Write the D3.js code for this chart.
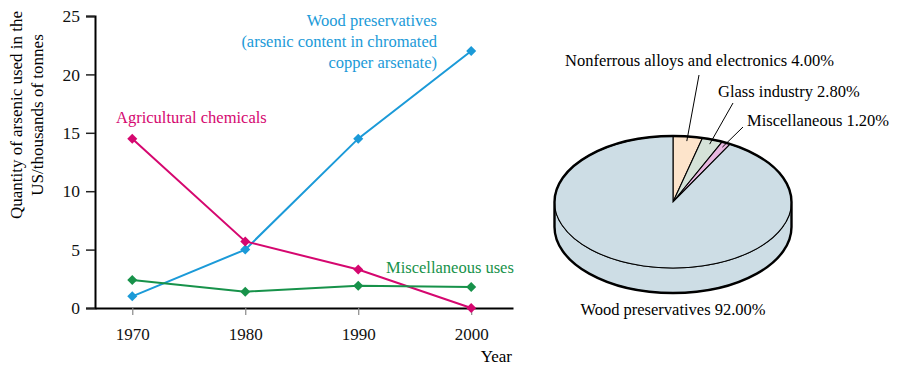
<!DOCTYPE html>
<html>
<head>
<meta charset="utf-8">
<script src="https://cdn.jsdelivr.net/npm/d3@7"></script>
<style>
  body { margin: 0; background: #fff; }
  text { font-family: "Liberation Serif", "DejaVu Serif", serif; }
</style>
</head>
<body>
<div id="chart"></div>
<script>
// line chart data (thousands of tonnes)
var years = [1970, 1980, 1990, 2000];
var woodValues = [1.0, 5.0, 14.5, 22.0];
var agriValues = [14.5, 5.7, 3.3, 0.0];
var miscValues = [2.4, 1.4, 1.9, 1.8];
var yTicks = [0, 5, 10, 15, 20, 25];

// pie data (percent)
var pieLabels = ["Nonferrous alloys and electronics", "Glass industry", "Miscellaneous", "Wood preservatives"];
var pieValues = [4.0, 2.8, 1.2, 92.0];
var pieColors = ["#fde4cb", "#d5e2d8", "#e7b7e0", "#cddde5"];

var width = 900, height = 377;

var svg = d3.select("#chart")
  .append("svg")
    .attr("width", width)
    .attr("height", height);

// ---- line chart ----
var x = d3.scaleLinear()
  .domain([1966.7, 2003.7])
  .range([95, 513]);

var y = d3.scaleLinear()
  .domain([0, 25])
  .range([308, 16]);

var series = [
  {name: "wood", values: woodValues, color: "#1b9ad8"},
  {name: "agri", values: agriValues, color: "#d5076f"},
  {name: "misc", values: miscValues, color: "#17924a"}
];

// y axis
var yAxis = svg.append("g")
  .attr("transform", "translate(95,0)")
  .call(d3.axisLeft(y).tickValues(yTicks).tickSize(9).tickPadding(6));
yAxis.select(".domain").attr("stroke", "#000").attr("stroke-width", 2);
yAxis.selectAll(".tick line").attr("stroke", "#222").attr("stroke-width", 1.5);
yAxis.selectAll(".tick text")
  .style("font-size", "17.5px")
  .style("font-family", "Liberation Serif")
  .attr("fill", "#111");

// x axis
var xAxis = svg.append("g")
  .attr("transform", "translate(0,308)")
  .call(d3.axisBottom(x).tickValues(years).tickFormat(d3.format("d")).tickSize(7).tickPadding(13).tickSizeOuter(0));
xAxis.select(".domain").attr("stroke", "#000").attr("stroke-width", 2);
xAxis.selectAll(".tick line").attr("stroke", "#888").attr("stroke-width", 1.2);
xAxis.selectAll(".tick text")
  .style("font-size", "17px")
  .style("font-family", "Liberation Serif")
  .attr("fill", "#111");

svg.append("text")
  .attr("x", 512)
  .attr("y", 362)
  .attr("text-anchor", "end")
  .style("font-size", "17px")
  .text("Year");

// y axis title
var yTitle = svg.append("text")
  .attr("transform", "translate(22,115) rotate(-90)")
  .attr("text-anchor", "middle")
  .style("font-size", "17px");
yTitle.append("tspan").attr("x", 0).attr("dy", 0).text("Quantity of arsenic used in the");
yTitle.append("tspan").attr("x", 0).attr("dy", 21).text("US/thousands of tonnes");

var line = d3.line()
  .x(function(d, i) { return x(years[i]); })
  .y(function(d) { return y(d); });

series.forEach(function(s) {
  svg.append("path")
    .datum(s.values)
    .attr("d", line)
    .attr("fill", "none")
    .attr("stroke", s.color)
    .attr("stroke-width", 2);

  svg.selectAll(".pt-" + s.name)
    .data(s.values)
    .enter()
    .append("path")
      .attr("class", "pt-" + s.name)
      .attr("d", d3.symbol().type(d3.symbolDiamond2).size(64))
      .attr("transform", function(d, i) { return "translate(" + x(years[i]) + "," + y(d) + ")"; })
      .attr("fill", s.color);
});

// series labels
var woodLabel = svg.append("text")
  .attr("text-anchor", "end")
  .attr("fill", "#1b9ad8")
  .style("font-size", "16.5px");
woodLabel.append("tspan").attr("x", 437).attr("y", 26).text("Wood preservatives");
woodLabel.append("tspan").attr("x", 437).attr("y", 47).text("(arsenic content in chromated");
woodLabel.append("tspan").attr("x", 437).attr("y", 68).text("copper arsenate)");

svg.append("text")
  .attr("x", 116)
  .attr("y", 123)
  .attr("fill", "#d5076f")
  .style("font-size", "16.5px")
  .text("Agricultural chemicals");

svg.append("text")
  .attr("x", 386)
  .attr("y", 273)
  .attr("fill", "#17924a")
  .style("font-size", "16.5px")
  .text("Miscellaneous uses");

// ---- 3D pie ----
var cx = 673, cy = 202, rx = 118.5, ry = 66, depth = 25;

var pieData = pieValues.map(function(v, i) {
  return {label: pieLabels[i], value: v, color: pieColors[i]};
});

var pie = d3.pie()
  .sort(null)
  .value(function(d) { return d.value; });
var arcs = pie(pieData);

var arc = d3.arc()
  .innerRadius(0)
  .outerRadius(rx);

var pieG = svg.append("g");

// side wall (front half)
pieG.append("path")
  .attr("d", "M" + (cx - rx) + "," + cy +
             " L" + (cx - rx) + "," + (cy + depth) +
             " A" + rx + "," + ry + " 0 0 0 " + (cx + rx) + "," + (cy + depth) +
             " L" + (cx + rx) + "," + cy +
             " A" + rx + "," + ry + " 0 0 1 " + (cx - rx) + "," + cy + " Z")
  .attr("fill", pieColors[3])
  .attr("stroke", "#000")
  .attr("stroke-width", 1);

// top face slices, squashed circle
pieG.append("g")
  .attr("transform", "translate(" + cx + "," + cy + ") scale(1," + (ry / rx) + ")")
  .selectAll("path")
  .data(arcs)
  .enter()
  .append("path")
    .attr("d", arc)
    .attr("fill", function(d) { return d.data.color; })
    .attr("stroke", "#000")
    .attr("stroke-width", 1.1)
    .attr("vector-effect", "non-scaling-stroke");

// thick outline
pieG.append("path")
  .attr("d", "M" + (cx - rx) + "," + cy +
             " A" + rx + "," + ry + " 0 0 1 " + (cx + rx) + "," + cy +
             " L" + (cx + rx) + "," + (cy + depth) +
             " A" + rx + "," + ry + " 0 0 1 " + (cx - rx) + "," + (cy + depth) + " Z")
  .attr("fill", "none")
  .attr("stroke", "#000")
  .attr("stroke-width", 2.4);

// leader lines and labels for small slices
var labelPos = [
  {tx: 565, ty: 66, anchor: "start", lx: 699, ly: 75, frac: 0.5},
  {tx: 718, ty: 97, anchor: "start", lx: 733, ly: 103, frac: 0.5},
  {tx: 747, ty: 126, anchor: "start", lx: 743, ly: 127, frac: 0.5}
];

arcs.slice(0, 3).forEach(function(d, i) {
  var p = labelPos[i];
  var a = d.startAngle + (d.endAngle - d.startAngle) * p.frac;
  var ex = cx + rx * Math.sin(a) * 0.93;
  var ey = cy - ry * Math.cos(a) * 0.93;
  svg.append("line")
    .attr("x1", p.lx).attr("y1", p.ly)
    .attr("x2", ex).attr("y2", ey)
    .attr("stroke", "#000")
    .attr("stroke-width", 1);
  svg.append("text")
    .attr("x", p.tx)
    .attr("y", p.ty)
    .attr("text-anchor", p.anchor)
    .style("font-size", "16.5px")
    .text(d.data.label + " " + d.data.value.toFixed(2) + "%");
});

svg.append("text")
  .attr("x", cx)
  .attr("y", 315)
  .attr("text-anchor", "middle")
  .style("font-size", "16.5px")
  .text(arcs[3].data.label + " " + arcs[3].data.value.toFixed(2) + "%");
</script>
</body>
</html>
